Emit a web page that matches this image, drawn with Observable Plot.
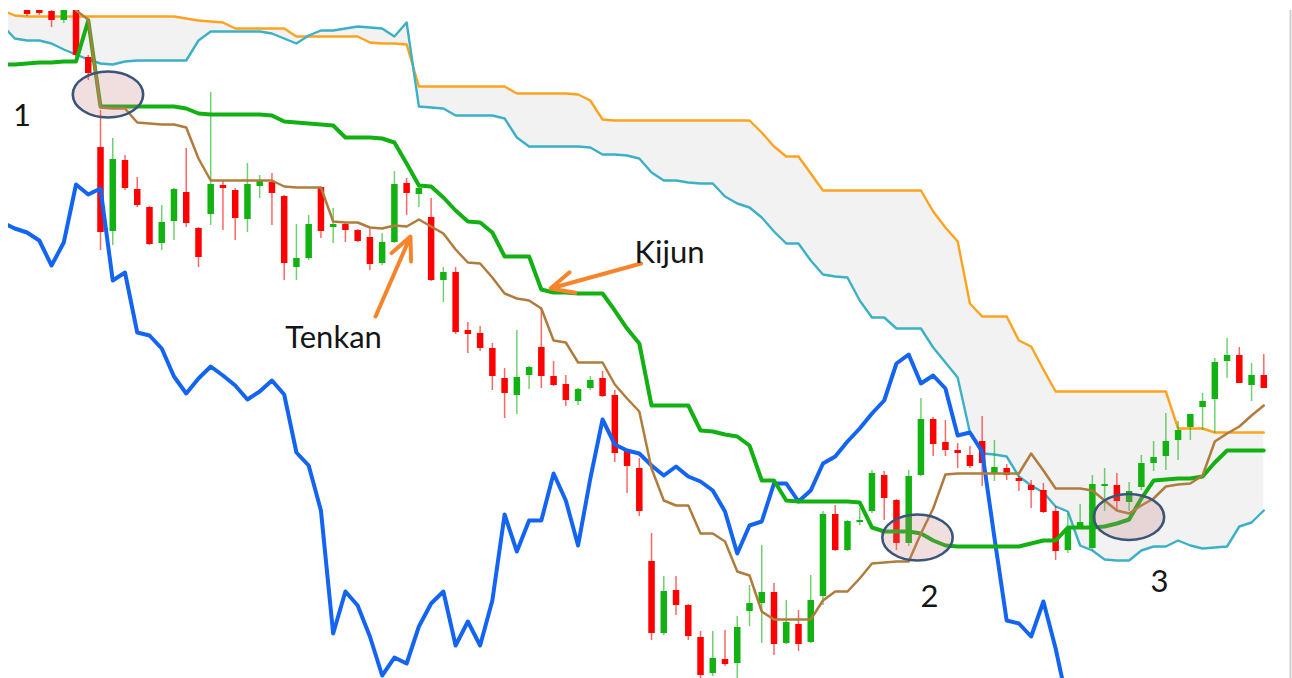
<!DOCTYPE html>
<html><head><meta charset="utf-8">
<script src="https://cdn.jsdelivr.net/npm/d3@7"></script>
<script src="https://cdn.jsdelivr.net/npm/@observablehq/plot@0.6"></script>
<style>html,body{margin:0;padding:0;background:#fff;} #chart svg{display:block;}</style>
</head><body><div id="chart"></div>
<script>
// Bar index (period) of each reading, from -1 (just left of the view) to 102
const period = d3.range(-1, 103);

// Senkou Span B (orange cloud edge)
const senkouB = [
  690, 685, 684, 684, 684, 684, 684, 684, 684, 684,
  684, 684, 684, 684, 684, 682, 680, 679, 678, 672,
  672, 672, 672, 672, 664, 664, 664, 664, 664, 664,
  658, 657, 657, 656, 614, 614, 614, 614, 614, 614,
  614, 614, 607, 607, 607, 607, 607, 606, 600, 581,
  580, 580, 580, 580, 580, 580, 580, 580, 580, 580,
  580, 580, 568, 554, 544, 544, 527, 510, 510, 510,
  510, 510, 510, 510, 510, 510, 489, 473, 459, 397,
  384, 384, 384, 360, 354, 331, 309, 309, 309, 309,
  309, 309, 309, 309, 309, 309, 272, 272, 272, 268,
  268, 268, 268, 268
];
// Senkou Span A (cyan cloud edge)
const senkouA = [
  675, 662, 660, 660, 657, 651, 646, 641, 637, 636,
  639, 640, 640, 640, 640, 640, 660, 669, 669, 669,
  669, 669, 667, 662, 657, 665, 670, 670, 672, 674,
  673, 672, 664, 678, 594, 593, 592, 585, 585, 585,
  585, 582, 563, 554, 554, 554, 554, 554, 553, 546,
  546, 545, 542, 528, 520, 520, 518, 517, 517, 504,
  497, 493, 483, 469, 457, 457, 440, 426, 424, 423,
  400, 383, 383, 372, 372, 372, 353, 338, 323, 268,
  247, 246, 244, 224, 215, 208, 194, 189, 155, 150,
  141, 140, 140, 150, 154, 154, 160, 155, 152, 153,
  154, 174, 178, 190
];
// Kijun-sen (green)
const kijun = [
  636, 636, 637, 638, 638, 639, 639, 680, 594, 594,
  594, 594, 594, 594, 594, 592, 587, 586, 586, 586,
  586, 586, 585, 579, 578, 577, 576, 575, 563, 563,
  563, 562, 558, 537, 515, 514, 503, 490, 479, 478,
  468, 444, 444, 444, 411, 408, 408, 407, 407, 407,
  390, 372, 357, 295, 295, 295, 295, 270, 269, 266,
  264, 255, 220, 220, 200, 199, 199, 199, 199, 199,
  198, 173, 169, 169, 169, 167, 160, 155, 154, 154,
  154, 154, 154, 154, 157, 160, 160, 173, 173, 173,
  174, 177, 181, 202, 220, 221, 222, 222, 224, 238,
  250, 250, 250, 250
];
// Tenkan-sen (brown)
const tenkan = [
  null, null, null, null, null, null, 690, 681, 593, 592,
  592, 578, 577, 576, 576, 573, 542, 520, 520, 520,
  520, 520, 520, 514, 513, 513, 513, 479, 478, 478,
  473, 472, 475, 474, 481, 474, 467, 451, 438, 437,
  423, 407, 402, 400, 392, 360, 358, 338, 338, 338,
  316, 302, 289, 232, 200, 195, 195, 167, 167, 159,
  129, 125, 89, 81, 81, 81, 81, 100, 109, 109,
  122, 137, 138, 139, 139, 167, 192, 226, 227, 227,
  227, 227, 227, 227, 247, 230, 212, 212, 212, 210,
  200, 190, 187, 195, 202, 214, 216, 217, 225, 259,
  267, 274, 285, 295
];
// Chikou span (blue)
const chikou = [
  478, 472, 468, 460, 435, 458, 516, 506, 512, 420,
  428, 368, 365, 352, 324, 307, 322, 334, 325, 315,
  301, 309, 320, 306, 248, 235, 190, 67, 109, 95,
  64, 25, 43, 37, 74, 97, 109, 55, 79, 55,
  100, 186, 149, 180, 180, 227, 200, 155, 222, 281,
  256, 250, 247, 235, 225, 234, 224, 219, 210, 189,
  147, 175, 179, 217, 217, 199, 210, 237, 244, 259,
  272, 287, 300, 337, 346, 317, 325, 312, 265, 268,
  249, 163, 80, 77, 64, 99, 52, -5, null, null,
  null, null, null, null, null, null, null, null, null, null,
  null, null, null, null
];
// Candles
const open = [
  null, null, 692, 692, 689, 680, 692, 643, 553, 469,
  540, 511, 493, 457, 479, 508, 472, 486, 515, 510,
  481, 514, 518, 504, 433, 442, 513, 473, 476, 470,
  463, 437, 458, 517, 506, 483, 420, 428, 370, 367,
  352, 322, 305, 325, 353, 324, 316, 299, 312, 322,
  305, 249, 232, 139, 67, 110, 95, 63, 27, 41,
  37, 89, 97, 108, 57, 76, 58, 104, 186, 150,
  178, 189, 225, 200, 157, 225, 281, 258, 250, 245,
  259, 227, 232, 222, 215, 210, 189, 150, 173, 152,
  214, 215, 198, 213, 237, 244, 260, 273, 293, 301,
  339, 345, 315, 325
];
const close = [
  null, null, 686, 687, 680, 690, 645, 627, 468, 541,
  512, 495, 456, 478, 511, 477, 443, 516, 512, 482,
  516, 519, 507, 437, 442, 476, 469, 476, 470, 459,
  436, 458, 516, 507, 512, 420, 428, 368, 366, 352,
  324, 307, 323, 333, 324, 315, 300, 311, 320, 304,
  247, 234, 189, 67, 109, 95, 64, 25, 42, 36,
  73, 97, 108, 56, 78, 56, 100, 186, 150, 179,
  180, 227, 202, 157, 224, 281, 256, 250, 247, 234,
  237, 233, 225, 219, 210, 188, 149, 172, 178, 216,
  216, 199, 209, 237, 243, 259, 270, 286, 299, 338,
  345, 317, 325, 312
];
const high = [
  null, null, 696, 696, 692, 694, 696, 645, 590, 562,
  545, 523, 494, 495, 512, 552, 473, 608, 520, 512,
  537, 525, 527, 505, 476, 485, 513, 492, 478, 471,
  472, 467, 529, 522, 515, 502, 433, 433, 378, 374,
  357, 332, 370, 334, 393, 339, 325, 312, 324, 329,
  310, 250, 242, 167, 124, 124, 96, 69, 69, 70,
  84, 115, 155, 117, 100, 90, 125, 189, 195, 180,
  192, 230, 229, 201, 230, 302, 283, 280, 257, 254,
  284, 260, 236, 224, 220, 217, 194, 187, 196, 225,
  232, 227, 218, 245, 259, 287, 279, 286, 307, 342,
  362, 353, 337, 346
];
const low = [
  null, null, 684, 685, 673, 677, 643, 620, 450, 455,
  510, 493, 455, 450, 460, 473, 433, 475, 470, 460,
  468, 502, 475, 420, 420, 440, 462, 457, 458, 458,
  430, 435, 457, 485, 493, 419, 398, 366, 347, 349,
  310, 282, 286, 311, 312, 314, 294, 295, 310, 303,
  238, 207, 184, 60, 65, 85, 60, 10, 24, 34,
  20, 74, 57, 45, 56, 49, 57, 95, 149, 149,
  175, 187, 180, 150, 154, 224, 244, 244, 232, 232,
  214, 219, 220, 209, 192, 187, 140, 147, 172, 150,
  189, 189, 189, 210, 229, 230, 240, 260, 270, 267,
  322, 317, 299, 312
];

// Annotations
const labelText = ["1", "Tenkan", "Kijun", "2", "3"];
const labelPeriod = [0.59, 26.03, 53.47, 74.70, 93.48];
const labelPrice = [575, 353, 438, 94, 109];
const circlePeriod = [7.61, 73.72, 90.99];
const circlePrice = [606, 163, 183.5];
const arrowFrom = [[29.46, 384], [51.15, 437]];
const arrowTo = [[32.31, 464], [43.75, 412]];
const borderPeriod = [104.18];

const rows = period.map((i, k) => ({i, a: senkouA[k], b: senkouB[k], kijun: kijun[k], tenkan: tenkan[k], chikou: chikou[k]}));
const bars = period.map((i, k) => ({i, o: open[k], h: high[k], l: low[k], c: close[k]})).filter(d => d.o != null);
const up = bars.filter(d => d.c >= d.o);
const down = bars.filter(d => d.c < d.o);
const labels = labelText.map((t, k) => ({t, i: labelPeriod[k], p: labelPrice[k]}));
const circles = circlePeriod.map((i, k) => ({i, p: circlePrice[k]}));
const arrows = arrowFrom.map((f, k) => ({x1: f[0], y1: f[1], x2: arrowTo[k][0], y2: arrowTo[k][1]}));

const GREEN = "#13b213", RED = "#ff0000";

const ellipse = {
  draw(ctx, size) {
    const ry = Math.sqrt(size / Math.PI), rx = ry * 1.53, k = 0.5523;
    ctx.moveTo(rx, 0);
    ctx.bezierCurveTo(rx, ry * k, rx * k, ry, 0, ry);
    ctx.bezierCurveTo(-rx * k, ry, -rx, ry * k, -rx, 0);
    ctx.bezierCurveTo(-rx, -ry * k, -rx * k, -ry, 0, -ry);
    ctx.bezierCurveTo(rx * k, -ry, rx, -ry * k, rx, 0);
    ctx.closePath();
  }
};

const chart = Plot.plot({
  width: 1292, height: 678,
  marginTop: 10, marginBottom: 0, marginLeft: 8, marginRight: 2,
  x: {domain: [-0.514, 104.18], axis: null},
  y: {domain: [22, 690], axis: null},
  style: {background: "#fff"},
  marks: [
    Plot.areaY(rows, {x: "i", y1: "b", y2: "a", fill: "#f2f2f2", clip: true}),
    Plot.line(rows, {x: "i", y: "b", stroke: "#ffa31f", strokeWidth: 2.4, clip: true}),
    Plot.line(rows, {x: "i", y: "a", stroke: "#3cb0c6", strokeWidth: 2.4, clip: true}),
    Plot.ruleX(up, {x: "i", y1: "l", y2: "h", stroke: GREEN, strokeOpacity: 0.6, strokeWidth: 1.5, clip: true}),
    Plot.ruleX(down, {x: "i", y1: "l", y2: "h", stroke: RED, strokeOpacity: 0.6, strokeWidth: 1.5, clip: true}),
    Plot.ruleX(up, {x: "i", y1: "o", y2: "c", stroke: GREEN, strokeWidth: 6.5, strokeLinecap: "butt", clip: true}),
    Plot.ruleX(down, {x: "i", y1: "o", y2: "c", stroke: RED, strokeWidth: 6.5, strokeLinecap: "butt", clip: true}),
    Plot.line(rows, {x: "i", y: "chikou", stroke: "#1464f2", strokeWidth: 4, clip: true}),
    Plot.line(rows, {x: "i", y: "kijun", stroke: "#12b012", strokeWidth: 4, clip: true}),
    Plot.line(rows, {x: "i", y: "tenkan", stroke: "#b07c3c", strokeWidth: 2.5, clip: true}),
    Plot.dot(circles, {x: "i", y: "p", r: 23, symbol: ellipse, fill: "#c88080", fillOpacity: 0.25, stroke: "#3b5579", strokeWidth: 2.6}),
    Plot.arrow(arrows, {x1: "x1", y1: "y1", x2: "x2", y2: "y2", stroke: "#f7842b", strokeWidth: 4, headLength: 9.4, headAngle: 50}),
    Plot.text(labels, {x: "i", y: "p", text: "t", fontSize: 31, fontFamily: "Lato", fill: "#151515", lineAnchor: "bottom", textAnchor: "middle"}),
    Plot.ruleX(borderPeriod, {stroke: "#cfcfcf", strokeWidth: 2})
  ]
});
document.getElementById("chart").appendChild(chart);
</script>
</body></html>
